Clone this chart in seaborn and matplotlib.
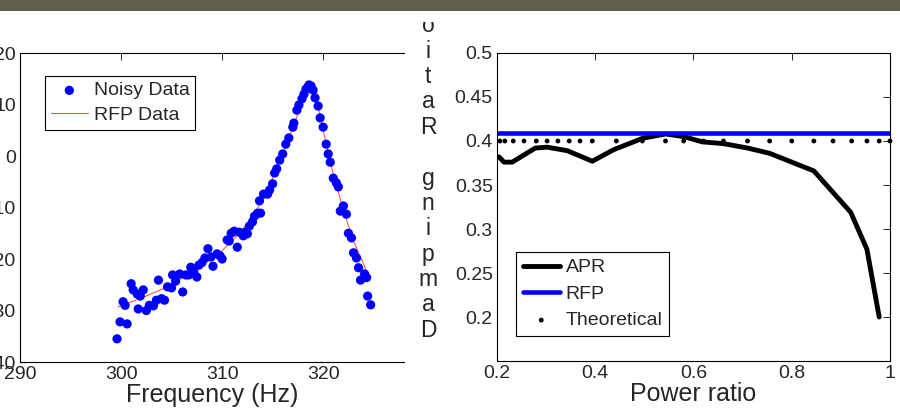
import matplotlib
matplotlib.use("Agg")
import matplotlib.pyplot as plt
import seaborn as sns
import pandas as pd
from matplotlib.patches import Rectangle

# left panel: noisy frequency response and the RFP fit
freq_noisy = [299.6, 299.9, 300.2, 300.4, 300.6, 301.0, 301.2, 301.6, 301.7, 301.9,
              302.2, 302.5, 302.8, 303.2, 303.5, 303.7, 304.0, 304.3, 304.6, 305.0,
              305.1, 305.4, 305.8, 306.1, 306.4, 306.7, 306.9, 307.2, 307.5, 307.7,
              308.0, 308.3, 308.6, 308.9, 309.1, 309.5, 309.8, 310.0, 310.5, 310.7,
              310.9, 311.2, 311.5, 311.7, 312.1, 312.3, 312.5, 312.7, 313.0, 313.2,
              313.5, 313.7, 313.8, 314.1, 314.5, 314.7, 315.0, 315.2, 315.4, 315.7,
              316.0, 316.3, 316.6, 317.0, 317.1, 317.4, 317.6, 317.9, 318.1, 318.3,
              318.5, 318.6, 318.8, 319.0, 319.2, 319.5, 319.7, 320.0, 320.3, 320.5,
              320.7, 321.0, 321.3, 321.5, 321.7, 322.0, 322.3, 322.5, 322.8, 323.0,
              323.3, 323.5, 323.7, 324.1, 324.3, 324.4, 324.7]
amp_noisy = [-35.5, -32.2, -28.3, -29.0, -32.6, -24.8, -26.0, -26.8, -29.7, -27.2,
             -26.0, -30.0, -29.0, -29.1, -28.0, -24.1, -27.7, -28.0, -25.4, -25.6,
             -23.1, -24.3, -22.9, -26.4, -23.1, -23.1, -21.6, -22.5, -23.5, -21.2,
             -20.7, -19.8, -18.0, -19.6, -21.4, -19.0, -19.4, -20.0, -16.3, -16.5,
             -15.0, -14.6, -17.7, -14.8, -15.5, -14.8, -15.1, -13.6, -12.8, -11.7,
             -11.1, -8.7, -11.1, -7.4, -7.4, -6.6, -5.4, -3.3, -2.5, -0.8,
             0.4, 2.3, 3.5, 5.6, 6.4, 8.9, 9.9, 11.1, 12.0, 13.0,
             13.4, 13.8, 13.6, 12.8, 11.3, 9.7, 7.4, 5.6, 2.3, 0.4,
             -1.2, -4.3, -5.2, -6.0, -10.7, -9.7, -11.3, -15.0, -15.9, -18.8,
             -19.8, -21.7, -24.1, -22.9, -23.6, -27.2, -28.9]
freq_fit = [299.7, 302.0, 304.0, 306.0, 308.0, 309.5, 311.0, 312.0, 313.0, 314.0,
            315.0, 316.0, 317.0, 318.0, 318.7, 319.3, 320.0, 321.0, 322.0, 323.0,
            324.0, 324.6]
amp_fit = [-29.3, -27.6, -25.9, -23.8, -21.3, -19.3, -16.5, -14.3, -11.8, -8.5,
           -4.3, 0.3, 5.5, 11.0, 13.6, 11.5, 5.0, -3.5, -10.5, -16.5,
           -21.0, -23.8]

# right panel: damping ratio against power ratio
power_ratio = [0.204, 0.214, 0.231, 0.278, 0.302, 0.343, 0.394, 0.437, 0.496, 0.543,
               0.580, 0.618, 0.661, 0.710, 0.755, 0.800, 0.845, 0.920, 0.953, 0.978]
apr_damping = [0.382, 0.376, 0.376, 0.392, 0.393, 0.389, 0.377, 0.390, 0.403, 0.408,
               0.405, 0.399, 0.397, 0.392, 0.386, 0.376, 0.366, 0.319, 0.277, 0.200]
rfp_ratio = [0.2, 1.0]
rfp_damping = [0.409, 0.409]
theo_ratio = [0.206, 0.216, 0.233, 0.255, 0.280, 0.302, 0.324, 0.347, 0.369, 0.394,
              0.443, 0.496, 0.543, 0.580, 0.620, 0.661, 0.710, 0.755, 0.800, 0.845,
              0.884, 0.922, 0.953, 0.978, 1.0]
theo_damping = [0.4] * len(theo_ratio)

sns.set_style("white")
plt.rcParams['font.family'] = ['Liberation Sans', 'DejaVu Sans']
plt.rcParams['xtick.direction'] = 'in'
plt.rcParams['ytick.direction'] = 'in'

fig = plt.figure(figsize=(9, 4.15), dpi=100)
ax1 = fig.add_axes([20 / 900, 1 - 362 / 415, 384 / 900, 309 / 415])
ax2 = fig.add_axes([497 / 900, 1 - 361 / 415, 393 / 900, 308 / 415])

df_noisy = pd.DataFrame({'f': freq_noisy, 'a': amp_noisy})
df_fit = pd.DataFrame({'f': freq_fit, 'a': amp_fit})
sns.scatterplot(data=df_noisy, x='f', y='a', ax=ax1, color='#0000ff', s=44,
                edgecolor='none', marker='o', label='Noisy Data', zorder=3)
sns.lineplot(data=df_fit, x='f', y='a', ax=ax1, color='#ff4040', lw=0.7,
             label='RFP Data', zorder=2)
ax1.set_xlim(290, 328)
ax1.set_ylim(-40, 20)
ax1.set_xticks([290, 300, 310, 320])
ax1.set_yticks([-40, -30, -20, -10, 0, 10, 20])
ax1.set_yticklabels([str(v) for v in [-40, -30, -20, -10, 0, 10, 20]])
ax1.set_xlabel('Frequency (Hz)', fontsize=18, labelpad=0)
ax1.set_ylabel('')
ax1.spines['right'].set_visible(False)
ax1.tick_params(top=True, labelsize=14, length=5, width=0.7, pad=3)
leg1 = ax1.legend(loc='upper left', bbox_to_anchor=(25 / 384, 1 - 23 / 309),
                  borderaxespad=0, fontsize=14, frameon=True, fancybox=False,
                  edgecolor='black', framealpha=1, handlelength=1.9,
                  handletextpad=0.3, labelspacing=0.35, borderpad=0.3)
leg1.get_frame().set_linewidth(0.8)

df_apr = pd.DataFrame({'x': power_ratio, 'y': apr_damping})
df_rfp = pd.DataFrame({'x': rfp_ratio, 'y': rfp_damping})
df_theo = pd.DataFrame({'x': theo_ratio, 'y': theo_damping})
sns.lineplot(data=df_apr, x='x', y='y', ax=ax2, color='black', lw=3.5, label='APR')
sns.lineplot(data=df_rfp, x='x', y='y', ax=ax2, color='#0000ff', lw=3.3, label='RFP')
sns.scatterplot(data=df_theo, x='x', y='y', ax=ax2, color='black', s=12,
                edgecolor='none', label='Theoretical', zorder=4, clip_on=False)
ax2.set_xlim(0.2, 1.0)
ax2.set_ylim(0.15, 0.5)
ax2.set_xticks([0.2, 0.4, 0.6, 0.8, 1.0])
ax2.set_xticklabels(['0.2', '0.4', '0.6', '0.8', '1'])
ax2.set_yticks([0.2, 0.25, 0.3, 0.35, 0.4, 0.45, 0.5])
ax2.set_yticklabels(['0.2', '0.25', '0.3', '0.35', '0.4', '0.45', '0.5'])
ax2.set_xlabel('Power ratio', fontsize=18, labelpad=0)
ax2.set_ylabel('')
ax2.tick_params(top=True, right=True, labelsize=14, length=5, width=0.7, pad=3)
leg2 = ax2.legend(loc='lower left', bbox_to_anchor=(19 / 393, 25 / 308),
                  borderaxespad=0, fontsize=14, frameon=True, fancybox=False,
                  edgecolor='black', framealpha=1, handlelength=1.9,
                  handletextpad=0.3, labelspacing=0.45, borderpad=0.35)
leg2.get_frame().set_linewidth(0.8)

for ax in (ax1, ax2):
    for sp in ax.spines.values():
        sp.set_color('black')
        sp.set_linewidth(0.8)

# stacked y label of the right panel, letters upright
fig.text(428 / 900, 1 - 178 / 415, '\n'.join(list('oitaR gnipmaD')),
         ha='center', va='center', fontsize=16.5, linespacing=1.13,
         multialignment='center')

# the slide crops the label's top: white strip, then the dark header band
fig.add_artist(Rectangle((0, 1 - 22 / 415), 1, 11 / 415, transform=fig.transFigure,
                         facecolor='white', edgecolor='none', zorder=9))
fig.add_artist(Rectangle((0, 1 - 11 / 415), 1, 11 / 415, transform=fig.transFigure,
                         facecolor='#5f5f4b', edgecolor='none', zorder=10))

plt.savefig('out.png', dpi=100)
